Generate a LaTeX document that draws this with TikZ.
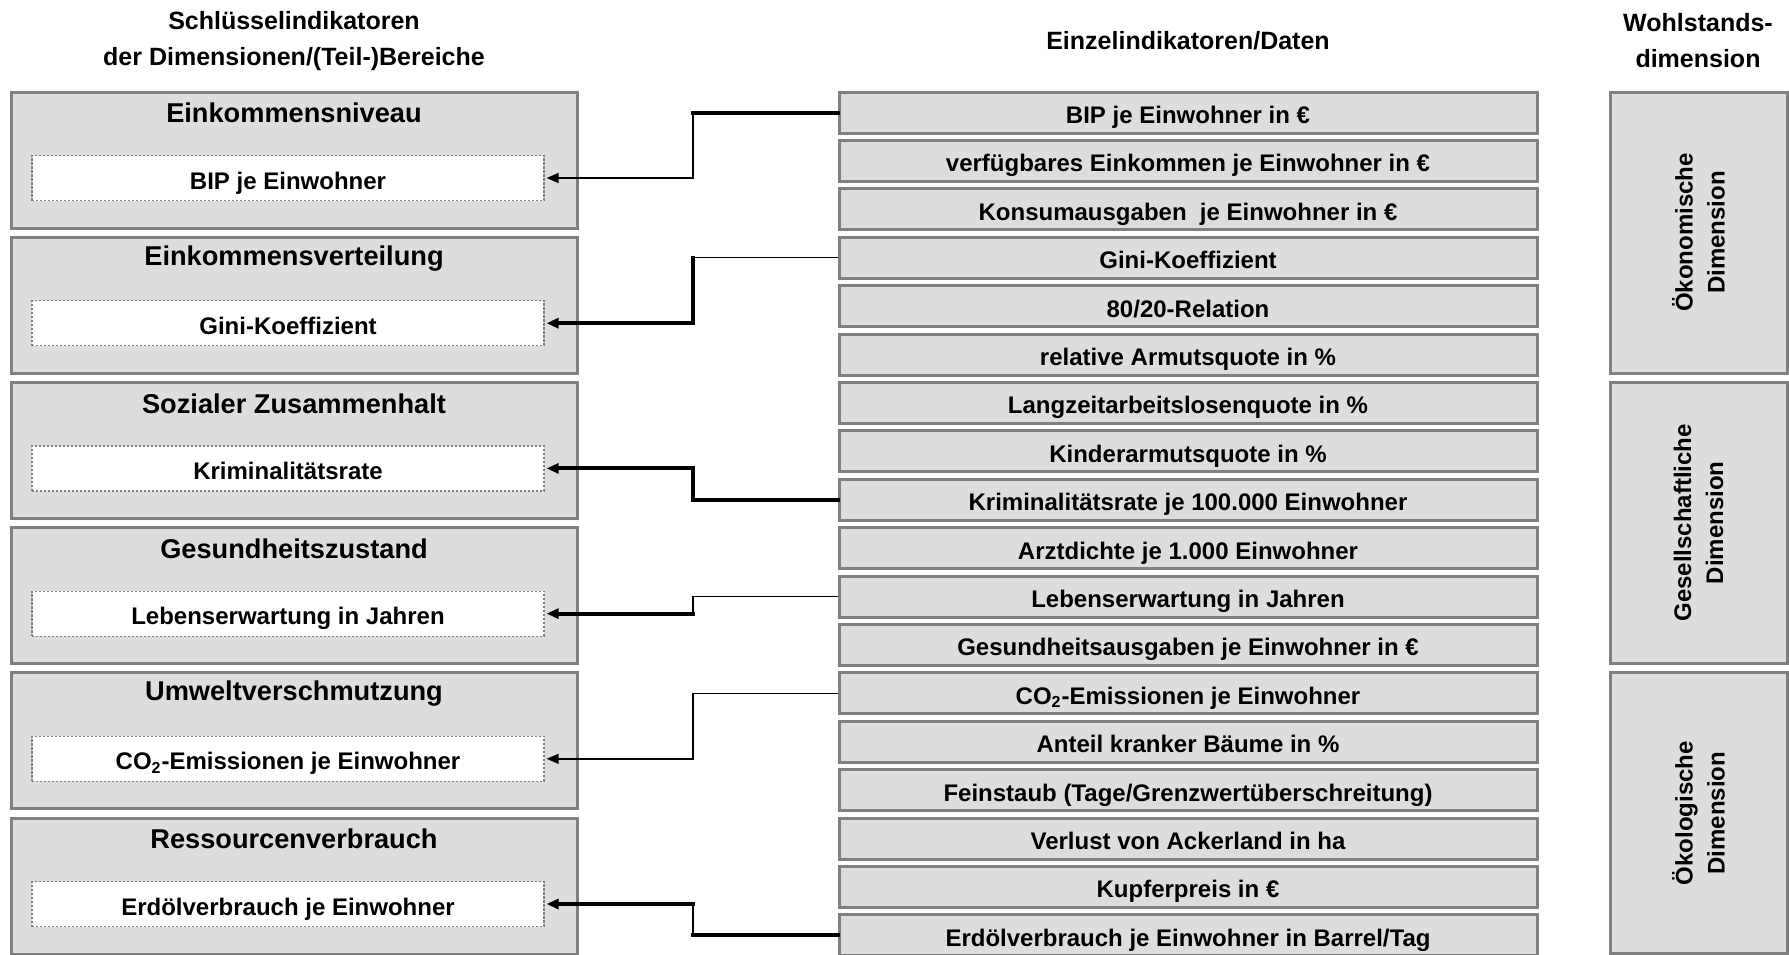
\documentclass[tikz,border=0pt]{standalone}
\usepackage{fontspec}
\setmainfont{Liberation Sans}
\usetikzlibrary{arrows.meta}
\definecolor{boxfill}{HTML}{DDDDDD}
\definecolor{boxline}{HTML}{808080}
\tikzset{
  catbox/.style={draw=boxline, fill=boxfill, line width=1.5pt, minimum width=283pt, minimum height=68pt, inner sep=0pt},
  cattitle/.style={font=\bfseries\fontsize{13.6}{16}\selectfont, inner sep=0pt},
  keybox/.style={draw=boxline, fill=white, line width=0.6pt, dash pattern=on 1.2pt off 0.8pt, minimum width=256pt, minimum height=22.5pt, inner sep=0pt, text height=12pt, text depth=1pt, font=\bfseries\fontsize{12}{14}\selectfont},
  databox/.style={draw=boxline, fill=boxfill, line width=1.5pt, minimum width=349pt, minimum height=20.5pt, inner sep=0pt, text height=12pt, text depth=1pt, font=\bfseries\fontsize{12}{14}\selectfont},
  dimbox/.style={draw=boxline, fill=boxfill, line width=1.5pt, minimum width=88.5pt, minimum height=140.5pt, inner sep=0pt},
  dimtext/.style={rotate=90, align=center, inner sep=0pt, font=\bfseries\fontsize{12}{16}\selectfont},
  header/.style={align=center, inner sep=0pt, font=\bfseries\fontsize{12.5}{18}\selectfont},
  thinlink/.style={line width=0.7pt, line cap=rect},
  thicklink/.style={line width=2pt, line cap=rect},
  linkarrow/.style={-{Triangle[length=6pt,width=5pt]}, shorten >=1pt},
}
\begin{document}
\begin{tikzpicture}[x=0.5pt,y=-0.5pt]
\clip (0,0) rectangle (1789,954);
\fill[white] (0,0) rectangle (1789,954);

% headers
\node[header] (h1) at (294,41.5) {Schlüsselindikatoren\\der Dimensionen/(Teil-)Bereiche};
\node[header] (h2) at (1188,40.5) {Einzelindikatoren/Daten};
\node[header] (h3) at (1698,40.5) {Wohlstands-\\dimension};

% data boxes
\foreach \t [count=\i from 0] in {
  {BIP je Einwohner in €},
  {verfügbares Einkommen je Einwohner in €},
  {Konsumausgaben\ \ je Einwohner in €},
  {Gini-Koeffizient},
  {80/20-Relation},
  {relative Armutsquote in \%},
  {Langzeitarbeitslosenquote in \%},
  {Kinderarmutsquote in \%},
  {Kriminalitätsrate je 100.000 Einwohner},
  {Arztdichte je 1.000 Einwohner},
  {Lebenserwartung in Jahren},
  {Gesundheitsausgaben je Einwohner in €},
  {CO\textsubscript{2}-Emissionen je Einwohner},
  {Anteil kranker Bäume in \%},
  {Feinstaub (Tage/Grenzwertüberschreitung)},
  {Verlust von Ackerland in ha},
  {Kupferpreis in €},
  {Erdölverbrauch je Einwohner in Barrel/Tag}}
  \node[databox] (m\i) at (1188, 112.5+48.4*\i) {\t};

% category boxes
\foreach \ti/\ke [count=\k from 0] in {
  {Einkommensniveau}/{BIP je Einwohner},
  {Einkommensverteilung}/{Gini-Koeffizient},
  {Sozialer Zusammenhalt}/{Kriminalitätsrate},
  {Gesundheitszustand}/{Lebenserwartung in Jahren},
  {Umweltverschmutzung}/{CO\textsubscript{2}-Emissionen je Einwohner},
  {Ressourcenverbrauch}/{Erdölverbrauch je Einwohner}}
{
  \node[catbox] (c\k) at (294, 160+145.2*\k) {};
  \node[cattitle] (ct\k) at (294, 113+145.2*\k) {\ti};
  \node[keybox] (k\k) at (288, 178+145.2*\k) {\ke};
}

% dimension boxes
\foreach \dt [count=\j from 0] in {
  {Ökonomische\\Dimension},
  {Gesellschaftliche\\Dimension},
  {Ökologische\\Dimension}}
{
  \node[dimbox] (d\j) at (1698.5, 232.5+290.4*\j) {};
  \node[dimtext] (dt\j) at (d\j.center) {\dt};
}

% connectors
\coordinate (jx) at (693,0);
\foreach \r/\k/\sa/\sb/\sc in {
  0/0/thicklink/thinlink/thinlink,
  3/1/thinlink/thicklink/thicklink,
  8/2/thicklink/thicklink/thicklink,
  10/3/thinlink/thinlink/thicklink,
  12/4/thinlink/thinlink/thinlink,
  17/5/thicklink/thinlink/thicklink}
{
  \draw[\sa] (m\r.west) -- (m\r.west -| jx);
  \draw[\sb] (m\r.west -| jx) -- (k\k.east -| jx);
  \draw[\sc, linkarrow] (k\k.east -| jx) -- (k\k.east);
}
\end{tikzpicture}
\end{document}
